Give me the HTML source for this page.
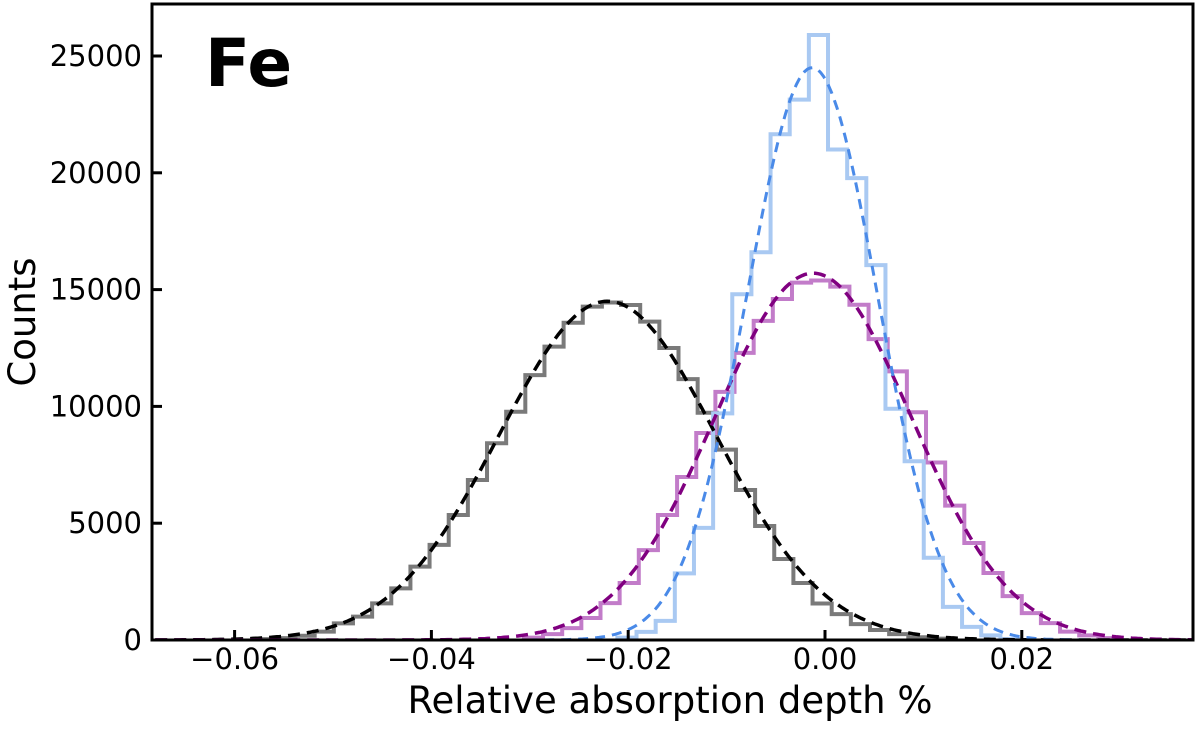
<!DOCTYPE html>
<html><head><meta charset="utf-8"><style>
html,body{margin:0;padding:0;background:#fff;}
svg text{font-family:"DejaVu Sans","Liberation Sans",sans-serif;}
</style></head><body>
<svg id="chart" width="1200" height="725" xmlns="http://www.w3.org/2000/svg"></svg>
<script>
const grayStart=-0.0577, purpleStart=-0.0306, blueStart=-0.0211, binWidth=0.001946;
const grayCounts=[40,80,180,360,710,1000,1570,2210,3140,4070,5350,6850,8420,9770,11340,12560,13580,14270,14450,14340,13630,12500,11170,9730,8150,6420,4880,3470,2440,1560,1110,680,430,250,120,60];
const purpleCounts=[100,250,510,940,1580,2440,3850,5350,6980,8860,10620,12290,13660,14600,15300,15390,15130,14350,12880,11500,9750,7600,5750,4150,2870,1880,1150,720,360,200,80];
const blueCounts=[100,350,820,2850,4800,9700,14800,16600,21650,23130,25900,21000,19770,16050,9900,7650,3520,1420,560,200,40];
const fitMu=[-0.0221,-0.0012,-0.0013];
const fitAmp=[14500,15700,24500];
const fitSigma=[0.0110,0.0100,0.0066];
const xTicks=[-0.06,-0.04,-0.02,0.00,0.02];
const xTickLabels=["\u22120.06","\u22120.04","\u22120.02","0.00","0.02"];
const yTicks=[0,5000,10000,15000,20000,25000];

const L=152,R=1193,T=4,B=640;
const sx=v=>825+v*9840;
const sy=c=>640-c*0.02336;
const svg=document.getElementById('chart');
const NS='http://www.w3.org/2000/svg';
function mk(tag,attrs,parent){const e=document.createElementNS(NS,tag);for(const k in attrs)e.setAttribute(k,attrs[k]);(parent||svg).appendChild(e);return e;}
const clip=mk('clipPath',{id:'cp'});mk('rect',{x:L,y:T,width:R-L,height:B-T},clip);
const g=mk('g',{'clip-path':'url(#cp)'});
[[grayStart,grayCounts,'#7a7a7a','gray-histogram'],[purpleStart,purpleCounts,'#c27cc9','purple-histogram'],[blueStart,blueCounts,'#a9c9f2','blue-histogram']].forEach(a=>{
  let d='M'+sx(a[0])+' '+sy(0);
  a[1].forEach((c,i)=>{d+=' L'+sx(a[0]+i*binWidth)+' '+sy(c)+' L'+sx(a[0]+(i+1)*binWidth)+' '+sy(c);});
  d+=' L'+sx(a[0]+a[1].length*binWidth)+' '+sy(0);
  const p=mk('path',{d:d,fill:'none',stroke:a[2],'stroke-width':4},g);
  
  
});
[[0,'#000000','gray-gaussian-fit',3.5,'12 7'],[1,'#800080','purple-gaussian-fit',3.5,'12 7'],[2,'#4a8ae8','blue-gaussian-fit',3,'10 7']].forEach(a=>{
  let d='';
  for(let k=0;k<=400;k++){const v=-0.0700+k*(0.1100/400);const c=fitAmp[a[0]]*Math.exp(-0.5*Math.pow((v-fitMu[a[0]])/fitSigma[a[0]],2));d+=(k?' L':'M')+sx(v).toFixed(1)+' '+sy(c).toFixed(1);}
  const p=mk('path',{d:d,fill:'none',stroke:a[1],'stroke-width':a[3],'stroke-dasharray':a[4]},g);
  
  
});
const fr=mk('rect',{x:L,y:T,width:R-L,height:B-T,fill:'none',stroke:'#000','stroke-width':3});


xTicks.forEach((v,i)=>{
  const t=mk('line',{x1:sx(v),x2:sx(v),y1:B,y2:B-10,stroke:'#000','stroke-width':3});
  
  
  const l=mk('text',{x:sx(v),y:669,'text-anchor':'middle','font-size':29});
  l.textContent=xTickLabels[i];
  
  
});
yTicks.forEach(v=>{
  const t=mk('line',{x1:L,x2:L+10,y1:sy(v),y2:sy(v),stroke:'#000','stroke-width':3});
  
  
  const l=mk('text',{x:142,y:sy(v)+10,'text-anchor':'end','font-size':29});
  l.textContent=String(v);
  
  
});
const xl=mk('text',{x:670,y:713,'text-anchor':'middle','font-size':37});
xl.textContent='Relative absorption depth %';


const yl=mk('text',{x:0,y:0,'text-anchor':'middle','font-size':37,transform:'translate(35,322) rotate(-90)'});
yl.textContent='Counts';


const fe=mk('text',{x:205,y:86,'font-size':66,'font-weight':'bold'});
fe.textContent='Fe';


</script>
</body></html>
